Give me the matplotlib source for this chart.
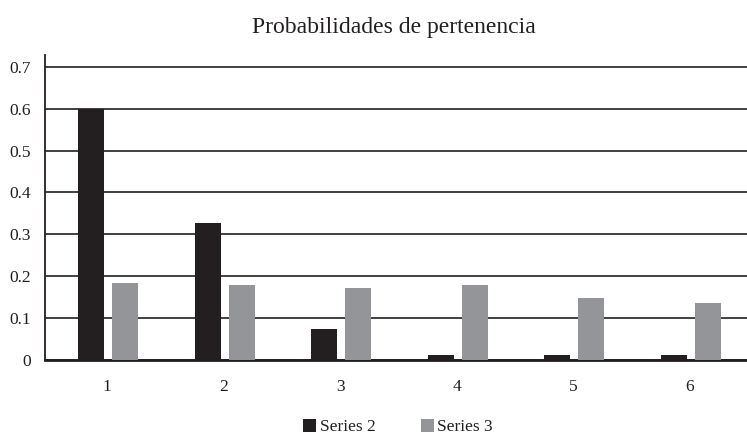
import matplotlib.pyplot as plt
import numpy as np

# data
categories = ["1", "2", "3", "4", "5", "6"]
series2 = [0.60, 0.327, 0.075, 0.012, 0.012, 0.012]
series3 = [0.184, 0.179, 0.172, 0.179, 0.149, 0.137]
yticks = [0, 0.1, 0.2, 0.3, 0.4, 0.5, 0.6, 0.7]
ytick_labels = ["0", "0.1", "0.2", "0.3", "0.4", "0.5", "0.6", "0.7"]

plt.rcParams['font.family'] = ['Liberation Serif', 'DejaVu Serif']

fig = plt.figure(figsize=(7.47, 4.36), dpi=100)
ax = fig.add_axes([45 / 747, 1 - 360 / 436, 702 / 747, 305 / 436])

x = np.arange(len(categories))
w = 0.223
ax.bar(x - 0.137, series2, w, color="#231f20", label="Series 2", zorder=3)
ax.bar(x + 0.154, series3, w, color="#939598", label="Series 3", zorder=3)

ax.set_xlim(-0.532, 5.489)
ax.set_ylim(0, 0.728)
ax.set_yticks(yticks)
ax.set_yticklabels(ytick_labels)
ax.set_xticks(x)
ax.set_xticklabels(categories)
ax.tick_params(axis="both", length=0, labelsize=12.5, colors="#231f20")
ax.tick_params(axis="x", pad=14)
ax.tick_params(axis="y", pad=10)

ax.yaxis.grid(True, color="#231f20", linewidth=1.2, zorder=0)
for s in ["top", "right"]:
    ax.spines[s].set_visible(False)
ax.spines["left"].set_color("#231f20")
ax.spines["left"].set_linewidth(1.3)
ax.spines["bottom"].set_color("#231f20")
ax.spines["bottom"].set_linewidth(2)

fig.text(394 / 747, 1 - 27 / 436, "Probabilidades de pertenencia",
         ha="center", va="center", fontsize=17, color="#231f20")

fig.legend(loc="center", bbox_to_anchor=(398 / 747, 1 - 427 / 436), ncol=2,
           frameon=False, fontsize=12.5, handlelength=0.75, handleheight=0.75,
           handletextpad=0.2, columnspacing=2.6, labelcolor="#231f20")

fig.savefig("out.png", dpi=100)
